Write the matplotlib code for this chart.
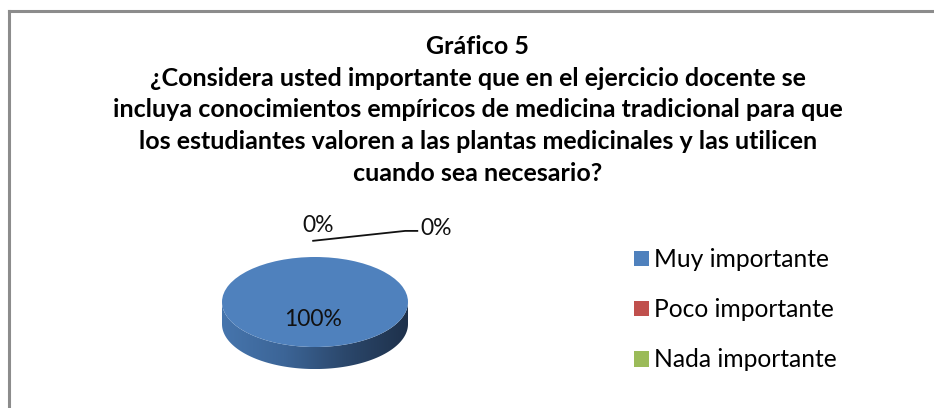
import numpy as np
import matplotlib.pyplot as plt
from matplotlib.patches import Polygon
from matplotlib.colors import LinearSegmentedColormap

titulo = ('Gráfico 5\n¿Considera usted importante que en el ejercicio docente se\n'
          'incluya conocimientos empíricos de medicina tradicional para que\n'
          'los estudiantes valoren a las plantas medicinales y las utilicen\n'
          'cuando sea necesario?')
categorias = ['Muy importante', 'Poco importante', 'Nada importante']
valores = [100, 0, 0]
colores = ['#4f81bd', '#c0504d', '#9bbb59']

plt.rcParams['font.family'] = ['Lato', 'DejaVu Sans']

W, H = 934, 408
fig = plt.figure(figsize=(W / 100, H / 100), dpi=100)

# marco (solo borde superior e izquierdo visibles)
fig.add_artist(plt.Line2D([8.5 / W, 8.5 / W], [0, 1 - 11 / H], color='#8c8c8c', lw=2.2))
fig.add_artist(plt.Line2D([8.5 / W, 1], [1 - 11 / H, 1 - 11 / H], color='#8c8c8c', lw=2.2))

fig.text(478 / W, 1 - 35 / H, titulo, ha='center', va='top', fontsize=18,
         fontweight='bold', linespacing=1.46)

# pastel "3D": elipse con lado sombreado
cx, cy, rx, ry, prof = 315, 302, 93, 45, 0.49
left = (cx - 1.1 * rx) / W
bottom = (H - (cy + (1.1 + prof + 0.05) * ry)) / H
ax = fig.add_axes([left, bottom, 2.2 * rx / W, (2.25 + prof) * ry / H])

t = np.linspace(np.pi, 2 * np.pi, 200)
xs = np.cos(t)
ys = np.sin(t)
lado = np.concatenate([np.column_stack([xs, ys]), np.column_stack([xs[::-1], ys[::-1] - prof])])
poly = Polygon(lado, closed=True, facecolor='none', edgecolor='none')
ax.add_patch(poly)
grad = np.linspace(0, 1, 256).reshape(1, -1)
cmap = LinearSegmentedColormap.from_list('lado', ['#4675ad', '#3c6597', '#2b476b', '#1e314b'])
im = ax.imshow(grad, extent=[-1, 1, -1 - prof, 0], aspect='auto', cmap=cmap, zorder=1)
im.set_clip_path(poly)

cunas, _ = ax.pie(valores, colors=colores, startangle=90, counterclock=False,
                  radius=1.0, wedgeprops=dict(linewidth=0))
for c in cunas:
    c.set_zorder(2)
ax.set_aspect('auto')
ax.set_xlim(-1.1, 1.1)
ax.set_ylim(-1.15 - prof, 1.1)
ax.axis('off')

total = sum(valores)
pct = [f'{v / total * 100:.0f}%' for v in valores]
ax.text(-0.02, -0.38, pct[0], ha='center', va='center', fontsize=16.5, color='#111111', zorder=3)
ax.text(0.03, 1.71, pct[1], ha='center', va='center', fontsize=16.5, color='#111111')
ax.text(1.13, 1.64, pct[2], ha='left', va='center', fontsize=16.5, color='#111111')
ax.plot([-0.02, 0.97, 1.10], [1.36, 1.58, 1.58], color='#111111', lw=1.3, clip_on=False)

leg = fig.legend(cunas, categorias, loc='upper left', bbox_to_anchor=(622 / W, 1 - 236 / H),
                 frameon=False, fontsize=17.7, handlelength=0.6, handleheight=0.6,
                 handletextpad=0.2, labelspacing=1.1, borderpad=0)

fig.savefig('out.png', dpi=100)
